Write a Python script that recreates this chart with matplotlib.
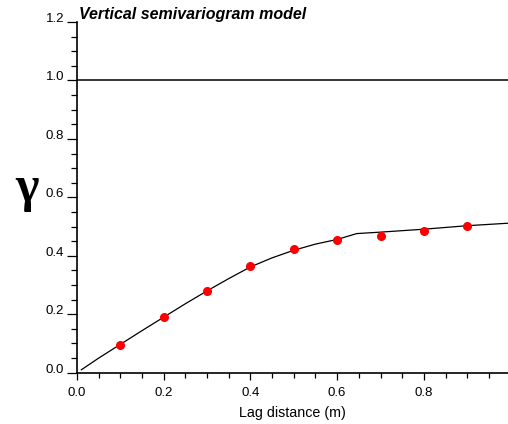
import numpy as np
import matplotlib
matplotlib.use('Agg')
from matplotlib import pyplot as plt

plt.rcParams['font.family'] = ['Liberation Sans', 'DejaVu Sans']

# experimental semivariogram points
lag = [0.1, 0.2, 0.3, 0.4, 0.5, 0.6, 0.7, 0.8, 0.9]
gamma_exp = [0.095, 0.19, 0.28, 0.366, 0.423, 0.454, 0.468, 0.484, 0.501]

# fitted model curve
lag_model = [0.01, 0.05, 0.1, 0.15, 0.2, 0.25, 0.3, 0.35, 0.4, 0.45, 0.5, 0.55, 0.6, 0.645, 0.7, 0.8, 0.9, 1.0]
gamma_model = [0.01, 0.05, 0.097, 0.144, 0.19, 0.236, 0.28, 0.322, 0.362, 0.393, 0.419, 0.440, 0.456, 0.476, 0.481, 0.491, 0.503, 0.512]

sill = 1.0

fig = plt.figure(figsize=(5.08, 4.24), dpi=100)
ax = fig.add_axes([77/508, 1 - 372.7/424, 1 - 77/508, (372.7 - 22)/424])

ax.axhline(sill, color='black', lw=1.1)
ax.plot(lag_model, gamma_model, color='black', lw=0.9)
ax.plot(lag, gamma_exp, 'o', color='red', ms=5.5, mec='red')

ax.set_xlim(0, 0.994)
ax.set_ylim(0, 1.2)
ax.set_xticks([0.0, 0.2, 0.4, 0.6, 0.8])
ax.set_xticks(np.arange(0.05, 0.99, 0.05), minor=True)
ax.set_yticks([0.0, 0.2, 0.4, 0.6, 0.8, 1.0, 1.2])
ax.set_yticks(np.arange(0.05, 1.2, 0.05), minor=True)
ax.set_xticklabels(['0.0', '0.2', '0.4', '0.6', '0.8'])
ax.set_yticklabels(['0.0', '0.2', '0.4', '0.6', '0.8', '1.0', '1.2'])

for s in ['top', 'right']:
    ax.spines[s].set_visible(False)
for s in ['left', 'bottom']:
    ax.spines[s].set_linewidth(1.2)

ax.tick_params(axis='y', which='major', length=7.2, width=0.9, pad=2, labelsize=9.5)
ax.tick_params(axis='y', which='minor', length=4.3, width=0.9)
ax.tick_params(axis='x', which='major', length=5, width=0.9, pad=5, labelsize=9.5)
ax.tick_params(axis='x', which='minor', length=3.5, width=0.9)
for lbl in ax.get_yticklabels():
    lbl.set_verticalalignment('baseline')

ax.set_xlabel('Lag distance (m)', fontsize=10.3, labelpad=5)
ax.text(0.005, 1.0, 'Vertical semivariogram model', transform=ax.transAxes,
        fontsize=11.5, fontweight='bold', fontstyle='italic', va='bottom', ha='left')
fig.text(27/508, 1 - 189/424, 'γ', fontsize=36, fontweight='bold',
         family=['Liberation Serif', 'DejaVu Serif'], ha='center', va='center')

fig.savefig('out.png', dpi=100)
